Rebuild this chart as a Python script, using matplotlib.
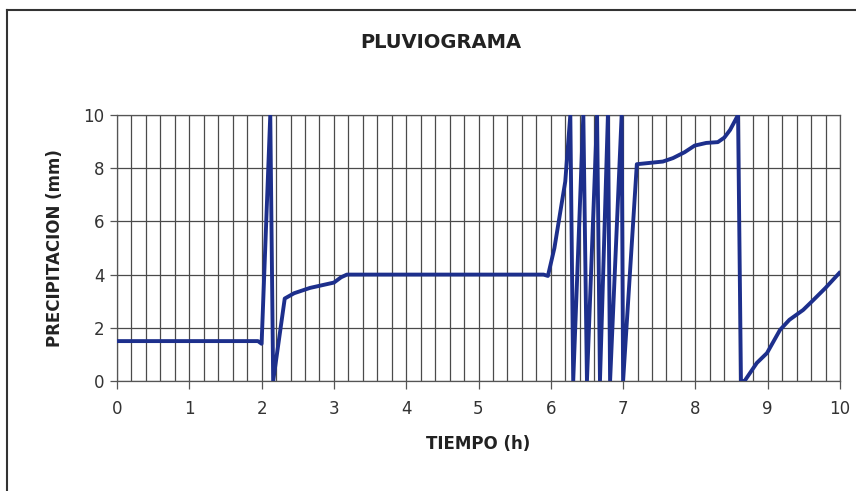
import matplotlib

matplotlib.use("Agg")
import matplotlib.pyplot as plt
from matplotlib.lines import Line2D
import numpy as np

# pluviograph trace (time in h, precipitation in mm)
tiempo = [0.0, 1.0, 1.95, 2.0, 2.12, 2.16, 2.32, 2.45, 2.67, 3.0, 3.1, 3.18,
          4.0, 5.0, 5.9, 5.96, 6.05, 6.2, 6.27, 6.31, 6.45, 6.5, 6.64, 6.68,
          6.79, 6.82, 6.98, 7.0, 7.19, 7.37, 7.55, 7.69, 7.85, 7.99, 8.15,
          8.31, 8.4, 8.48, 8.59, 8.63, 8.68, 8.85, 8.99, 9.17, 9.3, 9.49,
          9.63, 9.8, 9.99]
precip = [1.5, 1.5, 1.5, 1.4, 10.0, 0.0, 3.1, 3.3, 3.5, 3.7, 3.9, 4.0,
          4.0, 4.0, 4.0, 3.95, 5.0, 7.5, 10.0, 0.0, 10.0, 0.0, 10.0, 0.0,
          10.0, 0.0, 10.0, 0.0, 8.15, 8.2, 8.25, 8.38, 8.6, 8.85, 8.95,
          8.98, 9.15, 9.44, 10.0, 0.0, 0.0, 0.68, 1.05, 1.92, 2.3, 2.67,
          3.04, 3.5, 4.06]

x_ticks = list(range(0, 11))
y_ticks = [0, 2, 4, 6, 8, 10]

fig = plt.figure(figsize=(8.56, 4.91), dpi=100)
ax = fig.add_axes([117 / 856, 110 / 491, 723 / 856, 266 / 491])

ax.plot(tiempo, precip, color="#1d2f8c", linewidth=2.8, solid_joinstyle="round", zorder=3)

ax.set_xlim(0, 10)
ax.set_ylim(0, 10)
ax.set_xticks(x_ticks)
ax.set_yticks(y_ticks)
ax.set_xticks(np.arange(0, 10.01, 0.2), minor=True)
ax.grid(which="minor", axis="x", color="#4a4a4a", linewidth=0.9)
ax.grid(which="major", axis="both", color="#4a4a4a", linewidth=0.9)
ax.tick_params(axis="both", which="major", labelsize=12, color="#555555",
               length=6, width=0.9, labelcolor="#333333")
ax.tick_params(axis="x", which="major", pad=8)
ax.tick_params(axis="x", which="minor", length=0)
ax.tick_params(axis="y", which="major", length=5, pad=4)
for sp in ax.spines.values():
    sp.set_color("#555555")
    sp.set_linewidth(0.9)

ax.set_xlabel("TIEMPO (h)", fontsize=12, fontweight="bold", color="#222222", labelpad=12)
ax.set_ylabel("PRECIPITACION (mm)", fontsize=12, fontweight="bold", color="#222222", labelpad=14)
fig.text(441 / 856, 1 - 42 / 491, "PLUVIOGRAMA", ha="center", va="center",
         fontsize=14, fontweight="bold", color="#222222")

# outer frame of the scanned chart
fig.add_artist(Line2D([7 / 856, 1.0], [1 - 10 / 491, 1 - 10 / 491],
                      transform=fig.transFigure, color="#333333", linewidth=1.5))
fig.add_artist(Line2D([7 / 856, 7 / 856], [0.0, 1 - 10 / 491],
                      transform=fig.transFigure, color="#333333", linewidth=1.5))

fig.savefig("out.png", dpi=100)
